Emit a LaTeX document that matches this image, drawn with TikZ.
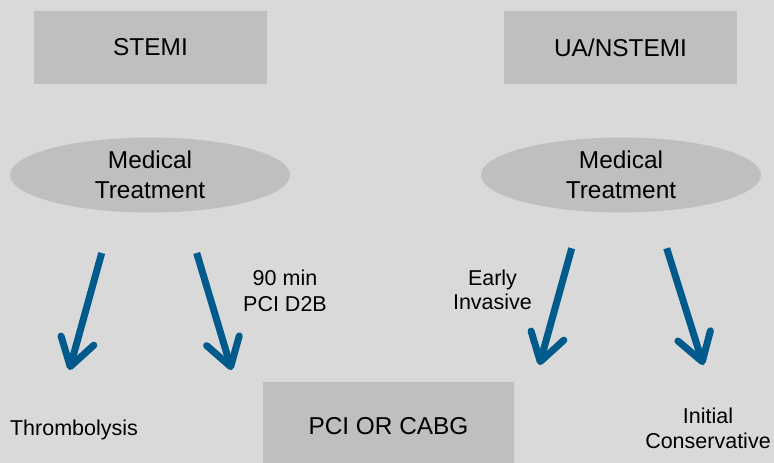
\documentclass[tikz,border=0pt]{standalone}
\usepackage{fontspec}
\setmainfont{Liberation Sans}
\usetikzlibrary{shapes.geometric,arrows.meta}
\definecolor{bggray}{HTML}{D9D9D9}
\definecolor{boxgray}{HTML}{BFBFBF}
\definecolor{arrowblue}{HTML}{005A8C}
\tikzset{
  bigtext/.style={font=\fontsize{24.4}{30}\selectfont, text=black},
  smalltext/.style={font=\fontsize{21.5}{25.5}\selectfont, text=black, align=center, inner sep=0pt},
  graybox/.style={fill=boxgray, draw=none, minimum width=233pt, minimum height=73pt, inner sep=0pt, bigtext},
  grayellipse/.style={ellipse, fill=boxgray, draw=none, minimum width=280pt, minimum height=75pt, inner sep=0pt, bigtext, align=center},
  bluearrow/.style={draw=arrowblue, line width=7pt, -{Straight Barb[length=27pt,width=34pt,round]}},
}
\begin{document}
\begin{tikzpicture}[x=1pt,y=-1pt]
\useasboundingbox (0,0) rectangle (774,463);
\clip (0,0) rectangle (774,463);
\fill[bggray] (0,0) rectangle (774,463);

\node[graybox] (stemi) at (150.5,47.5) {STEMI};
\node[graybox] (nstemi) at (620.5,47.5) {UA/NSTEMI};
\node[grayellipse] (medl) at (150,175) {Medical\\Treatment};
\node[grayellipse] (medr) at (621,175) {Medical\\Treatment};
\node[graybox, minimum width=251pt, minimum height=88pt] (pci) at (388.5,426) {PCI OR CABG};

\node[smalltext, anchor=base] (thromb) at (74,435) {Thrombolysis};
\node[smalltext, font=\fontsize{21.5}{26}\selectfont] (d2b) at (285,290.8) {90 min\\PCI D2B};
\node[smalltext, font=\fontsize{21.5}{24.5}\selectfont] (early) at (492.5,290) {Early\\Invasive};
\node[smalltext, font=\fontsize{21.5}{25}\selectfont] (cons) at (708,428) {Initial\\Conservative};

\coordinate (a1s) at (101.7,253);
\coordinate (a1e) at (69.3,370);
\coordinate (a2s) at (196.7,253);
\coordinate (a2e) at (231.7,370);
\coordinate (a3s) at (571.7,248.3);
\coordinate (a3e) at (539.3,365);
\coordinate (a4s) at (666.7,248.3);
\coordinate (a4e) at (703.3,365);

\draw[bluearrow] (a1s) -- (a1e);
\draw[bluearrow] (a2s) -- (a2e);
\draw[bluearrow] (a3s) -- (a3e);
\draw[bluearrow] (a4s) -- (a4e);
\end{tikzpicture}
\end{document}
